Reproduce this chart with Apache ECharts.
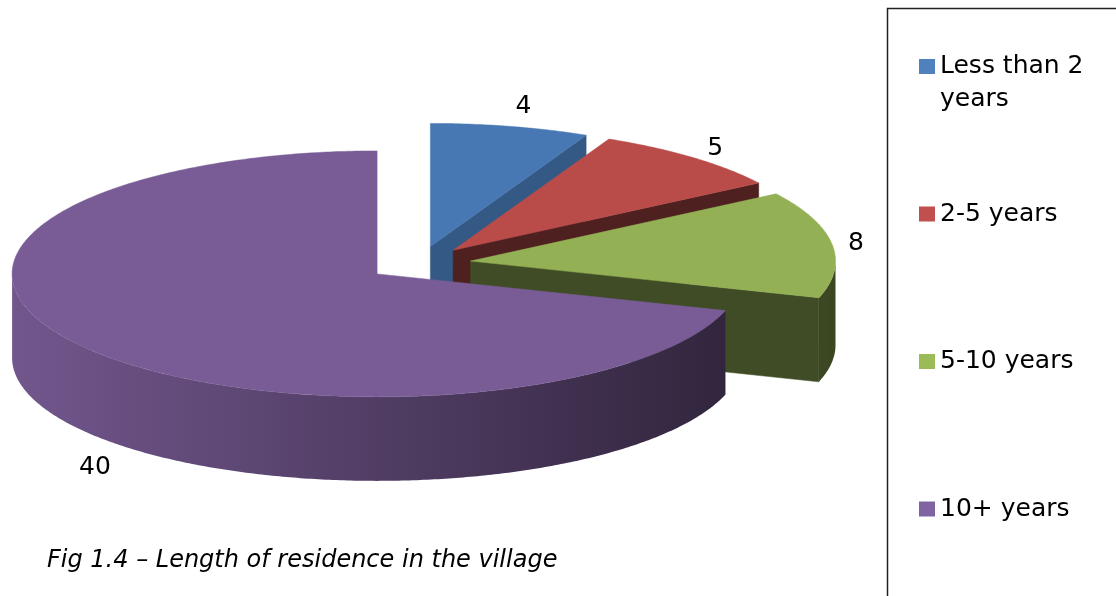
<!DOCTYPE html>
<html lang="en">

<head>
  <meta charset="UTF-8">
  <title>Length of residence in the village</title>
  <script src="https://cdn.jsdelivr.net/npm/echarts@6/dist/echarts.min.js"></script>
  <style>
    html,
    body {
      margin: 0;
      padding: 0;
      background: #fff;
    }

    #chart {
      width: 1116px;
      height: 596px;
    }
  </style>
</head>

<body>
  <div id="chart"></div>
  <script>
    const categories = ['Less than 2 years', '2-5 years', '5-10 years', '10+ years'];
    const values = [4, 5, 8, 40];
    const legendColors = ['#4F81BD', '#C0504D', '#9BBB59', '#8064A2'];
    const topColors = ['#4878b4', '#b94b49', '#93b055', '#795c96'];
    // darkness of the cut faces of each slice
    const faceShade = [0.74, 0.42, 0.43, 0.45];

    // pie layout (tilted pie, every slice pulled out a bit)
    const pie = { cx: 419, cy: 263.5, rx: 365, ry: 123, depth: 84, explode: 52 };
    const font = '"DejaVu Sans", Verdana, sans-serif';

    const total = values.reduce((a, b) => a + b, 0);

    function shade(hex, f) {
      const n = parseInt(hex.slice(1), 16);
      const r = Math.round(((n >> 16) & 255) * f);
      const g = Math.round(((n >> 8) & 255) * f);
      const b = Math.round((n & 255) * f);
      return 'rgb(' + r + ',' + g + ',' + b + ')';
    }

    // light coming from the left
    function wallShade(t) {
      return 0.67 - 0.27 * Math.sin(t);
    }

    function wrapName(name) {
      const words = name.split(' ');
      let line1 = '';
      const rest = [];
      words.forEach(w => {
        const test = (line1 + ' ' + w).trim();
        if (rest.length === 0 && test.length <= 11) line1 = test;
        else rest.push(w);
      });
      // three lines each, so the marker sits on the first line of text
      return '\n' + line1 + '\n' + rest.join(' ');
    }

    function makeRender(i) {
      return function (params, api) {
        const before = values.slice(0, i).reduce((a, b) => a + b, 0);
        const a1 = before / total * Math.PI * 2;
        const a2 = (before + api.value(0)) / total * Math.PI * 2;
        const mid = (a1 + a2) / 2;
        const k = pie.ry / pie.rx;
        const ax = pie.cx + pie.explode * Math.sin(mid);
        const ay = pie.cy - pie.explode * Math.cos(mid) * k;
        const pt = (t, dy) => [ax + pie.rx * Math.sin(t), ay - pie.ry * Math.cos(t) + (dy || 0)];
        const arc = (from, to, dy) => {
          const pts = [];
          const n = Math.max(2, Math.ceil(Math.abs(to - from) / 0.01));
          for (let j = 0; j <= n; j++) pts.push(pt(from + (to - from) * j / n, dy));
          return pts;
        };
        const col = topColors[i];
        const children = [];

        // outer wall, only the front half can be seen
        const lo = Math.max(a1, Math.PI / 2);
        const hi = Math.min(a2, Math.PI * 1.5);
        if (hi > lo) {
          const pts = arc(lo, hi, 0).concat(arc(hi, lo, pie.depth));
          const xl = pt(hi)[0];
          const xr = pt(lo)[0];
          const stops = [];
          for (let j = 0; j <= 16; j++) {
            const t = hi + (lo - hi) * j / 16;
            stops.push({ offset: (pt(t)[0] - xl) / (xr - xl), color: shade(col, wallShade(t)) });
          }
          children.push({
            type: 'polygon',
            shape: { points: pts },
            style: {
              fill: { type: 'linear', x: xl, y: 0, x2: xr, y2: 0, global: true, colorStops: stops }
            }
          });
        }

        // cut faces
        const face = t => {
          const r = pt(t);
          return {
            type: 'polygon',
            shape: { points: [[ax, ay], r, [r[0], r[1] + pie.depth], [ax, ay + pie.depth]] },
            style: { fill: shade(col, faceShade[i]), stroke: shade(col, faceShade[i]), lineWidth: 0.5 }
          };
        };
        if (Math.sin(a1) < -1e-6) children.push(face(a1));
        if (Math.sin(a2) > 1e-6) children.push(face(a2));

        // top face
        children.push({
          type: 'polygon',
          shape: { points: [[ax, ay]].concat(arc(a1, a2, 0)) },
          style: { fill: col, stroke: col, lineWidth: 0.5 }
        });

        // value label: outside the rim, under the wall for front slices
        let lx, ly;
        if (Math.cos(mid) < 0) {
          const p = pt(mid, pie.depth);
          lx = p[0] + 12;
          ly = p[1] + 37;
        } else {
          const p = pt(mid);
          const dx = Math.sin(mid), dy = -Math.cos(mid) * k;
          const len = Math.sqrt(dx * dx + dy * dy);
          lx = p[0] + dx / len * 24;
          ly = p[1] + dy / len * 24;
        }
        children.push({
          type: 'text',
          z2: 100,
          style: {
            x: lx,
            y: ly,
            text: String(api.value(0)),
            fill: '#000',
            font: '25px ' + font,
            align: 'center',
            verticalAlign: 'middle'
          }
        });

        return { type: 'group', children: children };
      };
    }

    const chart = echarts.init(document.getElementById('chart'));

    const option = {
      animation: false,
      legend: {
        orient: 'vertical',
        left: 919,
        top: 17,
        padding: 0,
        itemGap: 48.5,
        itemWidth: 16,
        itemHeight: 15,
        icon: 'rect',
        selectedMode: false,
        data: categories,
        formatter: wrapName,
        textStyle: {
          fontFamily: font,
          fontSize: 25,
          lineHeight: 33,
          color: '#000'
        }
      },
      graphic: [
        {
          type: 'rect',
          shape: { x: 887.5, y: 8.5, width: 300, height: 700 },
          style: { fill: 'none', stroke: '#222', lineWidth: 1.5 }
        },
        {
          type: 'text',
          style: {
            x: 47,
            y: 561,
            text: 'Fig 1.4 \u2013 Length of residence in the village',
            font: 'italic 24px ' + font,
            fill: '#000',
            verticalAlign: 'middle'
          }
        }
      ],
      series: categories.map((name, i) => ({
        type: 'custom',
        name: name,
        coordinateSystem: 'none',
        itemStyle: { color: legendColors[i] },
        renderItem: makeRender(i),
        data: [values[i]]
      }))
    };

    chart.setOption(option);
  </script>
</body>

</html>
